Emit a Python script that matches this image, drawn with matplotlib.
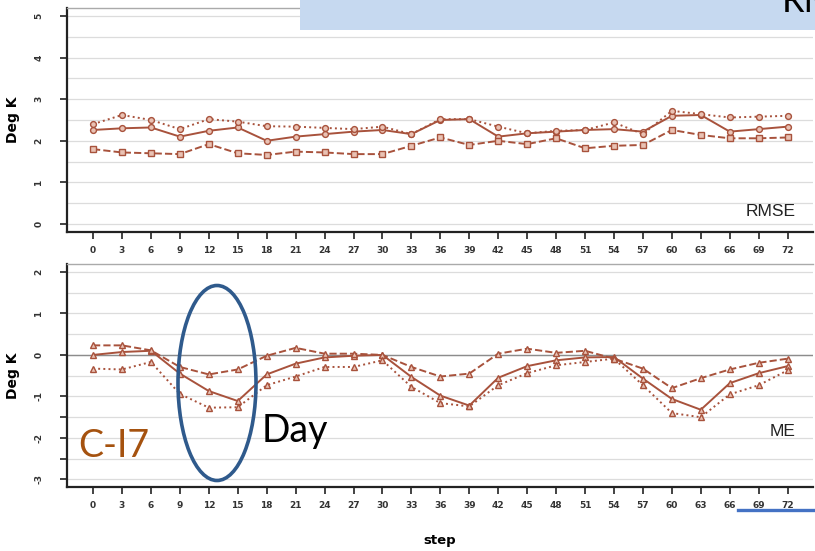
import matplotlib
matplotlib.use("Agg")
import matplotlib.pyplot as plt
import numpy as np
from matplotlib.patches import Ellipse, Rectangle
from matplotlib.lines import Line2D

steps = list(range(0, 73, 3))

# RMSE (Deg K) for the three runs
rmse_a = [2.26, 2.30, 2.32, 2.10, 2.24, 2.32, 2.00, 2.10, 2.16, 2.22, 2.26, 2.16, 2.50,
          2.52, 2.10, 2.18, 2.22, 2.26, 2.28, 2.22, 2.60, 2.62, 2.22, 2.28, 2.34]
rmse_b = [2.40, 2.62, 2.50, 2.28, 2.52, 2.46, 2.35, 2.34, 2.31, 2.28, 2.34, 2.16, 2.52,
          2.52, 2.34, 2.18, 2.24, 2.26, 2.44, 2.16, 2.72, 2.64, 2.56, 2.58, 2.60]
rmse_c = [1.80, 1.72, 1.70, 1.68, 1.92, 1.70, 1.66, 1.74, 1.72, 1.68, 1.68, 1.88, 2.08,
          1.90, 2.00, 1.92, 2.06, 1.82, 1.88, 1.90, 2.26, 2.14, 2.06, 2.06, 2.08]

# mean error (Deg K)
me_a = [0.00, 0.07, 0.10, -0.45, -0.87, -1.11, -0.47, -0.21, -0.06, -0.02, 0.00, -0.53, -0.98,
        -1.22, -0.55, -0.27, -0.13, -0.06, -0.05, -0.57, -1.06, -1.32, -0.68, -0.44, -0.27]
me_b = [0.23, 0.23, 0.11, -0.29, -0.47, -0.35, -0.02, 0.17, 0.03, 0.03, 0.00, -0.29, -0.52,
        -0.45, 0.03, 0.15, 0.05, 0.10, -0.09, -0.33, -0.80, -0.56, -0.35, -0.19, -0.09]
me_c = [-0.33, -0.35, -0.17, -0.94, -1.27, -1.26, -0.73, -0.52, -0.29, -0.29, -0.13, -0.77, -1.16,
        -1.24, -0.73, -0.44, -0.25, -0.17, -0.09, -0.73, -1.40, -1.50, -0.95, -0.73, -0.37]

LINE = "#a8523c"
FILL = "#e9c2b4"
TICK_FONT = dict(fontsize=6.5, color="#333333", fontweight="bold")

fig = plt.figure(figsize=(8.15, 5.51), dpi=100)
fig.patch.set_facecolor("white")

ax_top = fig.add_axes([0.0822, 0.579, 0.915, 0.4065])
ax_bot = fig.add_axes([0.0822, 0.1162, 0.915, 0.4047])


def style_panel(ax, ylo, yhi, yticks, minor=()):
    ax.set_xlim(-2.7, 74.6)
    ax.set_ylim(ylo, yhi)
    for y in np.arange(np.floor(ylo), yhi + 0.01, 0.5):
        ax.axhline(y, color="#dcdcdc", lw=0.9, zorder=0)
    ax.set_xticks(steps)
    ax.set_xticklabels([str(s) for s in steps], **TICK_FONT)
    ax.set_yticks(yticks)
    ax.set_yticklabels([str(t) for t in yticks], rotation=90, va="center", **TICK_FONT)
    ax.set_yticks(list(minor), minor=True)
    ax.tick_params(axis="x", which="major", length=5, width=1.2, color="#222222", pad=5)
    ax.tick_params(axis="y", which="both", length=5, width=1.2, color="#222222", pad=12)
    for side in ("left", "bottom"):
        ax.spines[side].set_color("#222222")
        ax.spines[side].set_linewidth(1.6)
    ax.spines["top"].set_color("#aaaaaa")
    ax.spines["top"].set_linewidth(1.0)
    ax.spines["right"].set_visible(False)
    ax.set_ylabel("Deg K", fontsize=10, fontweight="bold", labelpad=10)


style_panel(ax_top, -0.19, 5.19, [0, 1, 2, 3, 4, 5])
style_panel(ax_bot, -3.18, 2.19, [-3, -2, -1, 0, 1, 2], minor=(-2.5, -1.5))
ax_bot.axhline(0, color="#8c8c8c", lw=1.0, zorder=0.5)

mk = dict(color=LINE, lw=1.4, markersize=4.2, markeredgewidth=1.0,
          markerfacecolor=FILL, markeredgecolor=LINE)
ax_top.plot(steps, rmse_a, "-", marker="o", **mk)
ax_top.plot(steps, rmse_b, ":", marker="o", **mk)
ax_top.plot(steps, rmse_c, "--", marker="s", **mk)

ax_bot.plot(steps, me_a, "-", marker="^", **mk)
ax_bot.plot(steps, me_b, "--", marker="^", **mk)
ax_bot.plot(steps, me_c, ":", marker="^", **mk)

ax_top.text(72.8, 0.2, "RMSE", ha="right", va="baseline", fontsize=12.5,
            family="Liberation Sans", color="#222222")
ax_bot.text(72.8, -1.95, "ME", ha="right", va="baseline", fontsize=12.5,
            family="Liberation Sans", color="#222222")
ax_bot.set_xlabel("step", fontsize=9.5, fontweight="bold")
ax_bot.xaxis.set_label_coords(0.5, -0.21)

# highlight around the daytime dip
ell = Ellipse((217 / 815, 1 - 383 / 551), 78 / 815, 195 / 551, transform=fig.transFigure,
              fill=False, edgecolor="#2f5a8c", lw=2.6, zorder=10)
fig.add_artist(ell)
fig.text(262 / 815, 1 - 442 / 551, "Day", fontsize=27, family="Lato", color="black",
         ha="left", va="baseline")
fig.text(78 / 815, 1 - 457 / 551, "C-I7", fontsize=27, family="Lato", color="#a5520f",
         ha="left", va="baseline")

# title banner across the top
fig.add_artist(Rectangle((300 / 815, 1 - 30 / 551), 515 / 815, 30 / 551,
                         transform=fig.transFigure, facecolor="#c6d9f0", edgecolor="none", zorder=5))
fig.text(782 / 815, 1 - 12 / 551, "RMSE", fontsize=26, family="Lato", color="black",
         ha="left", va="baseline", zorder=6)

fig.add_artist(Line2D([738 / 815, 1.0], [1 - 510 / 551, 1 - 510 / 551],
                      transform=fig.transFigure, color="#4472c4", lw=2.4, zorder=10))

fig.savefig("out.png", dpi=100)
